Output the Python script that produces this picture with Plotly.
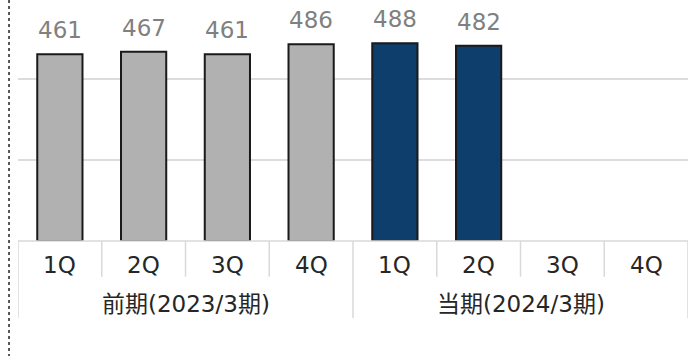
import plotly.graph_objects as go

# Quarterly values, previous and current fiscal years
periods = ["前期(2023/3期)", "当期(2024/3期)"]
quarters = ["1Q", "2Q", "3Q", "4Q"]
prev_values = [461, 467, 461, 486]
curr_values = [488, 482, None, None]

prev_color = "#b1b1b1"
curr_color = "#0e3e6c"
font_family = "DejaVu Sans, Noto Sans CJK JP, sans-serif"

x_prev = [[periods[0]] * 4, quarters]
x_curr = [[periods[1]] * 4, quarters]

fig = go.Figure()
fig.add_trace(go.Bar(
    x=x_prev, y=prev_values,
    marker=dict(color=prev_color, line=dict(color="#1a1a1a", width=2)),
    showlegend=False, hoverinfo="skip",
))
fig.add_trace(go.Bar(
    x=x_curr, y=curr_values,
    marker=dict(color=curr_color, line=dict(color="#1a1a1a", width=2)),
    showlegend=False, hoverinfo="skip",
))

values = prev_values + curr_values
annotations = []
# value labels above the bars
for i, v in enumerate(values):
    if v is None:
        continue
    annotations.append(dict(
        x=i, y=v, xref="x", yref="y", text=str(v), showarrow=False,
        yanchor="bottom", yshift=9,
        font=dict(family=font_family, size=23, color="#808080"),
    ))
# quarter labels
for i in range(8):
    annotations.append(dict(
        x=i, y=-0.1, xref="x", yref="paper", text=quarters[i % 4],
        showarrow=False, yanchor="middle",
        font=dict(family=font_family, size=23, color="#262626"),
    ))
# period labels
for g, name in enumerate(periods):
    annotations.append(dict(
        x=g * 4 + 1.5, y=-0.262, xref="x", yref="paper", text=name,
        showarrow=False, yanchor="middle",
        font=dict(family=font_family, size=23, color="#262626"),
    ))

shapes = []
line_gray = dict(color="#d9d9d9", width=1.5)
# baseline
shapes.append(dict(type="line", xref="paper", yref="paper", x0=0, x1=1,
                   y0=0, y1=0, line=line_gray))
# dividers between quarters and between periods
for b in range(9):
    is_group = b % 4 == 0
    shapes.append(dict(
        type="line", xref="x", yref="paper", x0=b - 0.5, x1=b - 0.5,
        y0=0, y1=-0.32 if is_group else -0.148, line=line_gray,
    ))
# dotted frame edge on the left
shapes.append(dict(type="line", xref="paper", yref="paper",
                   x0=-0.0134, x1=-0.0134, y0=1, y1=-0.477,
                   line=dict(color="#222222", width=1.5, dash="dot")))

fig.update_layout(
    width=691, height=356,
    margin=dict(l=18, r=3, t=0, b=115),
    paper_bgcolor="white", plot_bgcolor="white",
    bargap=0.46, barmode="group",
    annotations=annotations, shapes=shapes,
    xaxis=dict(type="multicategory", showticklabels=False, showgrid=False,
               showline=False, ticks="", showdividers=False, zeroline=False,
               range=[-0.5, 7.5]),
    yaxis=dict(range=[0, 595], dtick=200, showgrid=True, gridcolor="#dcdcdc",
               gridwidth=1.5, showticklabels=False, zeroline=False,
               showline=False, ticks=""),
)

fig.write_html("out.html")
